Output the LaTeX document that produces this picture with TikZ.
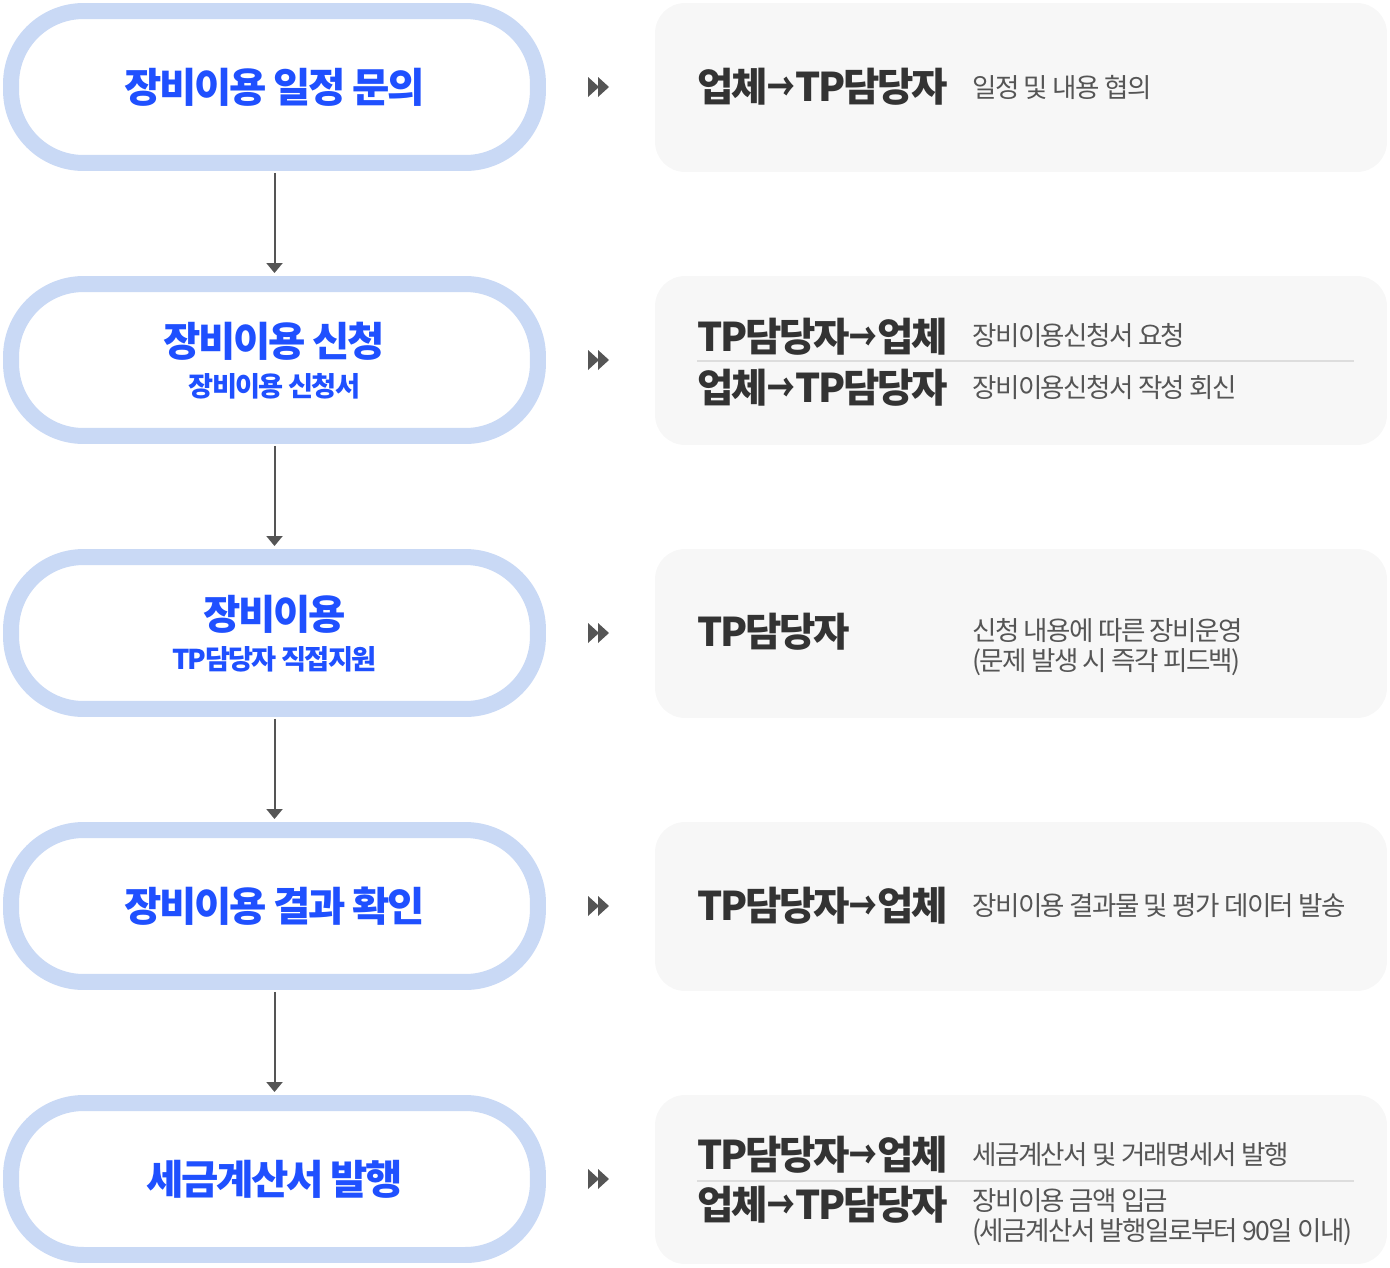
\documentclass[tikz,border=0pt]{standalone}
\usepackage{fontspec}
\usepackage{graphicx}
\setmainfont{Noto Sans CJK KR}[LetterSpace=-6]
\usetikzlibrary{arrows.meta, positioning}

\definecolor{pillline}{HTML}{C9D9F5}
\definecolor{stepblue}{HTML}{1F50FF}
\definecolor{boxgray}{HTML}{F7F7F7}
\definecolor{darktext}{HTML}{333333}
\definecolor{softtext}{HTML}{555555}
\definecolor{rulegray}{HTML}{DDDDDD}

\newcommand{\toarrow}{\scalebox{0.7}[1]{→}}

\begin{document}
\begin{tikzpicture}[x=0.02cm, y=-0.02cm, >={Triangle[length=0.2cm,width=0.32cm]},
   pill/.style={draw=pillline, line width=0.32cm, fill=white, rounded corners=1.45cm,
                minimum width=10.54cm, minimum height=3.04cm},
   infobox/.style={fill=boxgray, rounded corners=0.6cm, minimum width=14.64cm, minimum height=3.38cm},
   title/.style={inner sep=0, text=stepblue, font=\fontsize{23.1}{27}\selectfont\bfseries},
   subtitle/.style={inner sep=0, text=stepblue, font=\fontsize{15.5}{19}\selectfont\bfseries},
   who/.style={anchor=west, inner sep=0, text=darktext, font=\fontsize{22.5}{26}\selectfont\bfseries},
   what/.style={anchor=west, inner sep=0, text=softtext, align=left, font=\fontsize{15.1}{17}\selectfont},
   flow/.style={->, draw=softtext, line width=0.04cm, shorten <=0.04cm, shorten >=0.06cm},
   fwd/.style={fill=softtext}]

   \useasboundingbox (0,0) rectangle (1390,1268);

   % Steps
      \node[pill]     (s1)   at (274.5,87)   {};
      \node[title]    (s1t)  at (274.5,87)   {장비이용 일정 문의};
      \node[pill]     (s2)   at (274.5,360)  {};
      \node[title]    (s2t)  at (274.5,341)  {장비이용 신청};
      \node[subtitle] (s2s)  at (274.5,386)  {장비이용 신청서};
      \node[pill]     (s3)   at (274.5,633)  {};
      \node[title]    (s3t)  at (274.5,614)  {장비이용};
      \node[subtitle] (s3s)  at (274.5,659)  {TP담당자 직접지원};
      \node[pill]     (s4)   at (274.5,906)  {};
      \node[title]    (s4t)  at (274.5,906)  {장비이용 결과 확인};
      \node[pill]     (s5)   at (274.5,1179) {};
      \node[title]    (s5t)  at (274.5,1179) {세금계산서 발행};

   % Boxes
      \node[infobox]  (b1)   at (1021,87.5)  {};
      \node[infobox]  (b2)   at (1021,360.5) {};
      \node[infobox]  (b3)   at (1021,633.5) {};
      \node[infobox]  (b4)   at (1021,906.5) {};
      \node[infobox]  (b5)   at (1021,1179.5) {};

   % Box texts
      \node[who]  (b1w)  at (697,87)   {업체\toarrow TP담당자};
      \node[what] (b1d)  at (972,87)   {일정 및 내용 협의};
      \node[who]  (b2w)  at (697,337)  {TP담당자\toarrow 업체};
      \node[what] (b2d)  at (972,336)  {장비이용신청서 요청};
      \node[who]  (b2v)  at (697,388)  {업체\toarrow TP담당자};
      \node[what] (b2e)  at (972,388)  {장비이용신청서 작성 회신};
      \node[who]  (b3w)  at (697,632)  {TP담당자};
      \node[what] (b3d)  at (972,647)  {신청 내용에 따른 장비운영\\(문제 발생 시 즉각 피드백)};
      \node[who]  (b4w)  at (697,906)  {TP담당자\toarrow 업체};
      \node[what] (b4d)  at (972,906)  {장비이용 결과물 및 평가 데이터 발송};
      \node[who]  (b5w)  at (697,1155) {TP담당자\toarrow 업체};
      \node[what] (b5d)  at (972,1155) {세금계산서 및 거래명세서 발행};
      \node[who]  (b5v)  at (697,1205) {업체\toarrow TP담당자};
      \node[what] (b5e)  at (972,1217) {장비이용 금액 입금\\(세금계산서 발행일로부터 90일 이내)};

   % Rules
      \draw[rulegray, line width=0.04cm] (697,361) -- (1354,361);
      \draw[rulegray, line width=0.04cm] (697,1181) -- (1354,1181);

   % Paths
      \path (s1) edge[flow] (s2);
      \path (s2) edge[flow] (s3);
      \path (s3) edge[flow] (s4);
      \path (s4) edge[flow] (s5);

   % Forward marks
      \foreach \y in {87,360,633,906,1179}{
         \fill[fwd] (588,\y-10) -- (599,\y) -- (588,\y+10) -- cycle;
         \fill[fwd] (598,\y-10) -- (609,\y) -- (598,\y+10) -- cycle;
      }
\end{tikzpicture}
\end{document}
